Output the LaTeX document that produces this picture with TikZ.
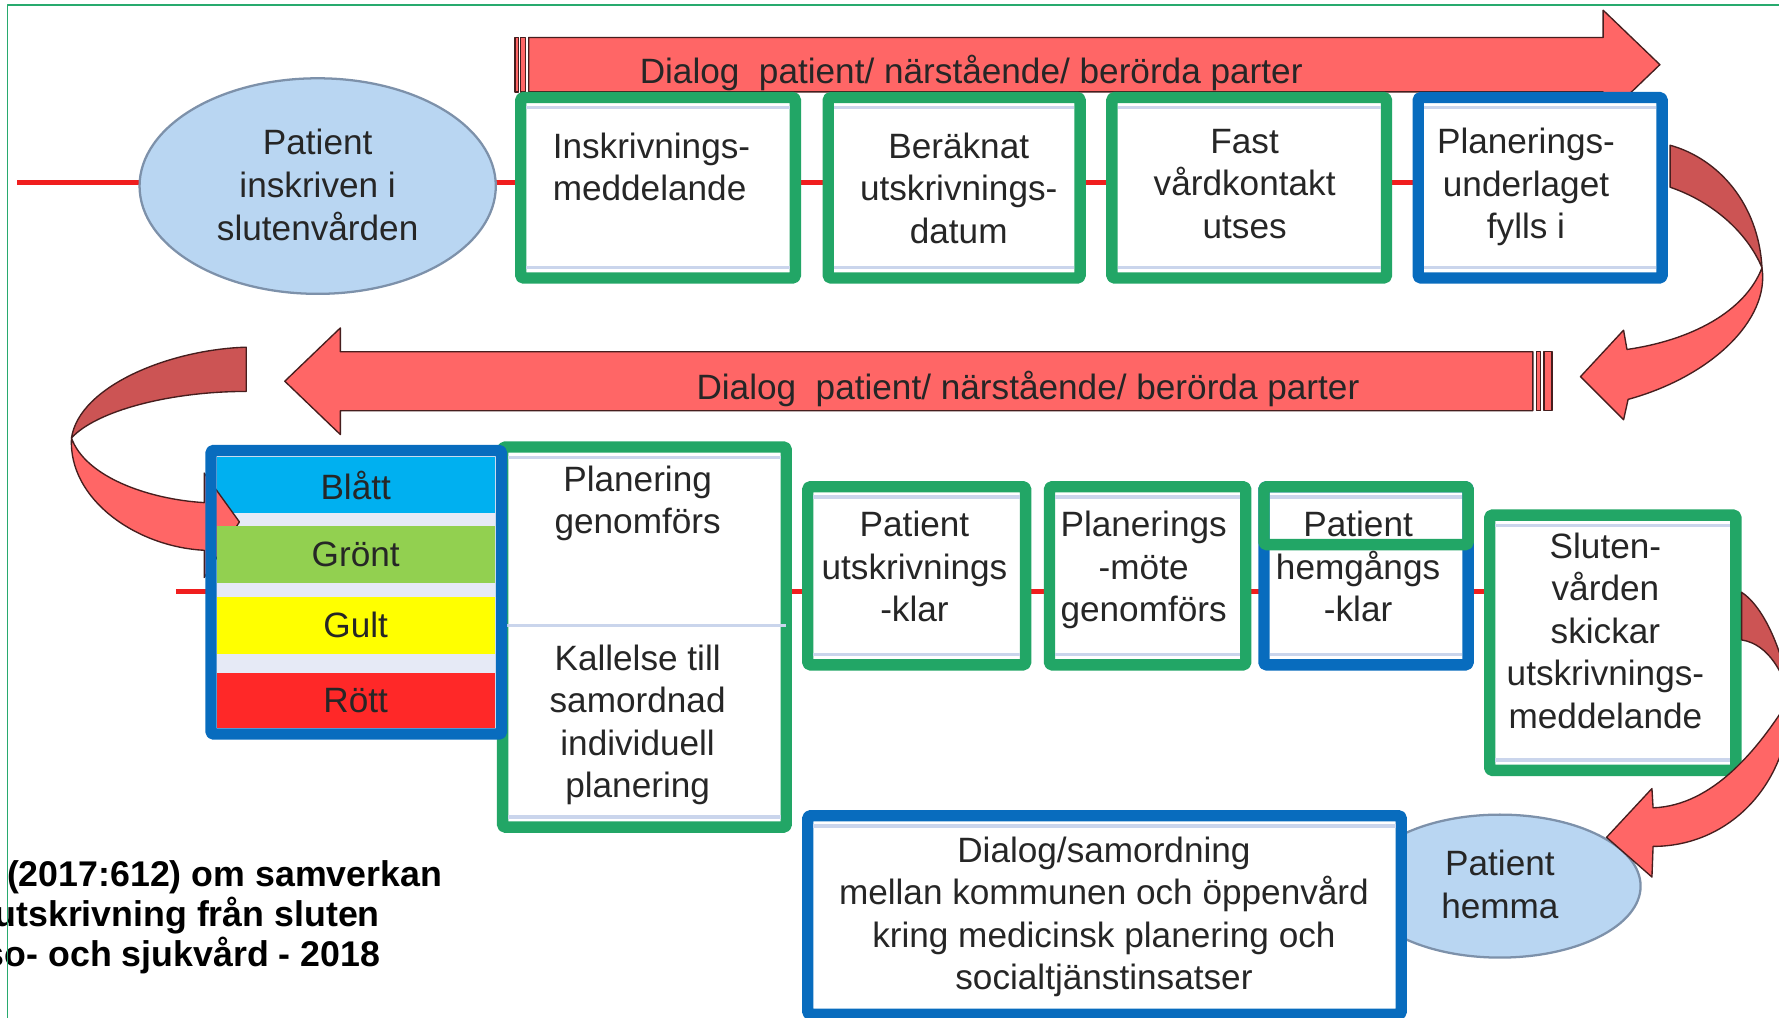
\documentclass[tikz,border=0pt]{standalone}
\usepackage{fontspec}
\setmainfont{Liberation Sans}
\usetikzlibrary{calc,shapes.geometric}
\definecolor{gborder}{RGB}{34,166,102}
\definecolor{bborder}{RGB}{8,108,190}
\definecolor{arrred}{RGB}{255,102,102}
\definecolor{arrdark}{RGB}{204,84,84}
\definecolor{arrline}{RGB}{70,30,30}
\definecolor{ellfill}{RGB}{185,214,242}
\definecolor{elldraw}{RGB}{125,145,170}
\definecolor{txtgray}{RGB}{38,38,38}
\definecolor{innerln}{RGB}{202,213,236}
\definecolor{lav}{RGB}{230,234,246}
\definecolor{cBl}{RGB}{0,176,240}
\definecolor{cGr}{RGB}{146,208,80}
\definecolor{cGu}{RGB}{255,255,0}
\definecolor{cRo}{RGB}{255,40,40}
\definecolor{frameg}{RGB}{40,170,110}
\definecolor{linered}{RGB}{240,30,30}
\newcommand{\pplines}[1]{%
  \draw[pp] ($(#1.north west)+(10,14)$) -- ($(#1.north east)+(-10,14)$);
  \draw[pp] ($(#1.south west)+(10,-14)$) -- ($(#1.south east)+(-10,-14)$);}
\begin{document}
\begin{tikzpicture}[x=1pt,y=-1pt,line join=round,
  txt/.style={font=\fontsize{31}{37.5}\selectfont, text=txtgray, align=center, inner sep=0pt},
  law/.style={font=\fontsize{31.5}{38}\selectfont\bfseries, text=black, inner sep=0pt},
  gbox/.style={draw=gborder, line width=10pt, fill=white, inner sep=0pt, rounded corners=1.5pt},
  bbox/.style={gbox, draw=bborder},
  ell/.style={ellipse, draw=elldraw, line width=2pt, fill=ellfill, inner sep=0pt},
  arr/.style={fill=arrred, draw=arrline, line width=1.2pt},
  arrd/.style={fill=arrdark, draw=arrline, line width=1.2pt},
  redln/.style={draw=linered, line width=4.5pt},
  band/.style={txt, text=black!85, minimum width=245pt, inner sep=0pt},
  pp/.style={draw=innerln, line width=3pt},
]
\useasboundingbox (0,0) rectangle (1568,897);
\fill[white] (0,0) rectangle (1568,897);

% red process lines
\coordinate (rlA) at (15,161);
\coordinate (rlB) at (1250,161);
\coordinate (rlC) at (155,521);
\coordinate (rlD) at (1312,521);
\draw[redln] (rlA) -- (rlB);
\draw[redln] (rlC) -- (rlD);

% top dialog arrow
\filldraw[arr] (454,33) rectangle (457,81);
\filldraw[arr] (459,33) rectangle (463,81);
\filldraw[arr] (466,33) -- (1413,33) -- (1413,9) -- (1463,57) -- (1413,105) -- (1413,81) -- (466,81) -- cycle;
\node[txt, anchor=base] (dlgA) at (856,74) {Dialog\ \ patient/ närstående/ berörda parter};

% second dialog arrow
\filldraw[arr] (1354,310) rectangle (1358,362);
\filldraw[arr] (1361,310) rectangle (1368,362);
\filldraw[arr] (1351,310) -- (300,310) -- (300,289) -- (251,336) -- (300,383) -- (300,362) -- (1351,362) -- cycle;
\node[txt, anchor=base] (dlgB) at (906,352) {Dialog\ \ patient/ närstående/ berörda parter};

% ellipses
\node[ell, minimum width=314pt, minimum height=190pt] (e1) at (280,164) {};
\node[txt] (e1t) at (280,163) {Patient\\inskriven i\\slutenvården};
\node[ell, minimum width=248pt, minimum height=126pt] (e2) at (1322,781) {};
\node[txt] (e2t) at (1322,779.5) {Patient\\hemma};

% top row boxes
\node[gbox, minimum width=242pt, minimum height=159pt] (b1) at (580,165.5) {};
\node[gbox, minimum width=222pt, minimum height=159pt] (b2) at (841,165.5) {};
\node[gbox, minimum width=242pt, minimum height=159pt] (b3) at (1101,165.5) {};
\node[bbox, minimum width=215pt, minimum height=159pt] (b4) at (1357.5,165.5) {};
\pplines{b1}\pplines{b2}\pplines{b3}\pplines{b4}
\node[txt, align=left, anchor=west] (b1t) at (487,147) {Inskrivnings-\\meddelande};
\node[txt] (b2t) at (845,166) {Beräknat\\utskrivnings-\\datum};
\node[txt] (b3t) at (1097,162) {Fast\\vårdkontakt\\utses};
\node[txt] (b4t) at (1345,165) {Planerings-\\underlaget\\fylls i};

% planning box (under the colour box)
\node[gbox, minimum width=250pt, minimum height=335pt] (plan) at (568,561.5) {};
\pplines{plan}
\coordinate (dvA) at (443,551);
\coordinate (dvB) at (693,551);
\draw[pp, line width=2.5pt] (dvA) -- (dvB);
\node[txt] (plant) at (562,443.5) {Planering\\genomförs};
\node[txt] (kallt) at (562,639) {Kallelse till\\samordnad\\individuell\\planering};

% colour box
\node[fill=lav, minimum width=256pt, minimum height=250pt, inner sep=0pt] (cbg) at (314,522) {};
\node[band, fill=cBl, minimum height=49pt] (blatt) at (313.5,427.5) {Blått};
% left curved arrow
\filldraw[arrd] (217,306) .. controls (150,308) and (70,340) .. (63,386)
  .. controls (85,362) and (150,345) .. (217,345) -- cycle;
\filldraw[arr] (63,386) .. controls (60,440) and (120,482) .. (180,485) -- (180,509) -- (211,460) -- (180,417) -- (180,443)
  .. controls (130,440) and (75,420) .. (63,386) -- cycle;
\node[band, fill=cGr, minimum height=50pt] (gront) at (313.5,489) {Grönt};
\node[band, fill=cGu, minimum height=50pt] (gult) at (313.5,551) {Gult};
\node[band, fill=cRo, minimum height=49pt] (rott) at (313.5,617.5) {Rött};
\node[bbox, fill=none, minimum width=256pt, minimum height=250pt] (cbox) at (314,522) {};

% second row boxes
\node[gbox, minimum width=192pt, minimum height=157pt] (pu) at (808,507.5) {};
\node[gbox, minimum width=173pt, minimum height=157pt] (pm) at (1011.5,507.5) {};
\node[bbox, minimum width=180pt, minimum height=157pt] (ph) at (1204,507.5) {};
\node[gbox, minimum width=217pt, minimum height=225pt] (sl) at (1421.5,566.5) {};
\pplines{pu}\pplines{pm}\pplines{ph}\pplines{sl}
\node[gbox, fill=none, minimum width=180pt, minimum height=51pt] (phg) at (1204,454.5) {};
\node[txt] (put) at (806,499.5) {Patient\\utskrivnings\\-klar};
\node[txt] (pmt) at (1008,502.5) {Planerings\\-möte\\genomförs};
\node[txt] (pht) at (1197,499.5) {Patient\\hemgångs\\-klar};
\node[txt] (slt) at (1415,556) {Sluten-\\vården\\skickar\\utskrivnings-\\meddelande};

% dialog / samordning box
\node[bbox, minimum width=523pt, minimum height=175pt] (dlg) at (973.5,806.5) {};
\draw[pp] ($(dlg.north west)+(10,14)$) -- ($(dlg.north east)+(-10,14)$);
\node[txt] (dlgt) at (973,808) {Dialog/samordning\\mellan kommunen och öppenvård\\kring medicinsk planering och\\socialtjänstinsatser};

% top-right curved arrow
\filldraw[arrd] (1472,128) .. controls (1515,140) and (1550,180) .. (1553,236)
  .. controls (1540,205) and (1510,178) .. (1472,165) -- cycle;
\filldraw[arr] (1553,236) .. controls (1560,282) and (1508,332) .. (1435,352) -- (1431,370) -- (1393,332) -- (1431,291) -- (1434,308)
  .. controls (1490,300) and (1538,275) .. (1553,236) -- cycle;

% bottom-right curved arrow
\filldraw[arrd] (1535,522) .. controls (1555,535) and (1572,575) .. (1578,615)
  .. controls (1572,595) and (1560,568) .. (1535,564) -- cycle;
\filldraw[arr] (1578,615) .. controls (1578,690) and (1525,746) .. (1457,746) -- (1456,773) -- (1416,738) -- (1456,695) -- (1457,712)
  .. controls (1510,710) and (1550,660) .. (1578,615) -- cycle;

% law text (cut at the left edge, as in the reference)
\node[law, anchor=base west] (lawA) at (6,781) {(2017:612) om samverkan};
\node[law, anchor=base west] (lawB) at (-5,817) {utskrivning från sluten};
\node[law, anchor=base west] (lawC) at (-13.5,852) {so- och sjukvård - 2018};

% frame
\draw[frameg, line width=1.5pt] (6.5,897) -- (6.5,4.4) -- (1568,4.4);
\end{tikzpicture}
\end{document}
